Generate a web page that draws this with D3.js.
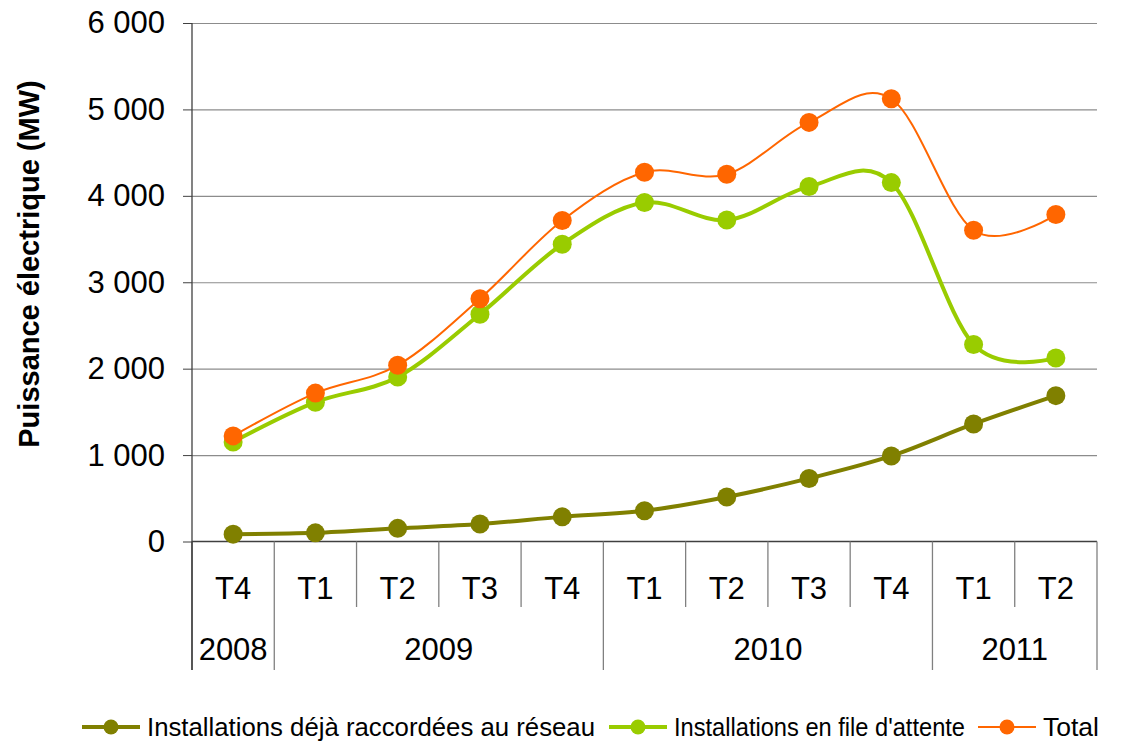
<!DOCTYPE html>
<head>
  <meta charset="utf-8">
  <script src="https://d3js.org/d3.v7.min.js"></script>
  <style>
    body { margin: 0; background: #fff; }
    text { font-family: "Liberation Sans", Arial, sans-serif; fill: #000; }
    .grid line { stroke: #8c8c8c; stroke-width: 1.2; }
    .grid path { display: none; }
    .y path { display: none; }
    .y line { stroke: #404040; }
    .y text { font-size: 31px; }
  </style>
</head>
<body>
<script>
  // quarters along the x axis, grouped by year
  var quarters = ["T4", "T1", "T2", "T3", "T4", "T1", "T2", "T3", "T4", "T1", "T2"];
  var years = ["2008", "2009", "2010", "2011"];
  var yearSpans = [1, 4, 4, 2];

  var yTicks = [0, 1000, 2000, 3000, 4000, 5000, 6000];

  // MW
  var raccordees = [85, 100, 152, 202, 285, 355, 515, 730, 990, 1360, 1688];
  var fileAttente = [1152, 1612, 1904, 2630, 3440, 3922, 3720, 4107, 4153, 2280, 2124];
  var total = [1222, 1717, 2040, 2810, 3714, 4272, 4249, 4850, 5123, 3602, 3783];

  var seriesNames = ["Installations déjà raccordées au réseau", "Installations en file d'attente", "Total"];
  var seriesColors = ["#808000", "#99cc00", "#ff6600"];
  var seriesWidths = [4, 4, 2];

  var W = 1132, H = 746;
  var plotLeft = 192, plotRight = 1097, plotTop = 23, plotBottom = 541.5;

  var svg = d3.select("body").append("svg")
      .attr("width", W)
      .attr("height", H);

  var x = d3.scaleBand()
      .domain(d3.range(quarters.length))
      .range([plotLeft, plotRight])
      .padding(0);

  var y = d3.scaleLinear()
      .domain([0, 6000])
      .range([plotBottom, plotTop]);

  var fr = d3.formatLocale({decimal: ",", thousands: " ", grouping: [3], currency: ["", " €"]});
  var fmt = fr.format(",d");

  // gridlines
  svg.append("g")
      .attr("class", "grid")
      .attr("transform", "translate(" + plotLeft + ",0)")
      .call(d3.axisLeft(y).tickValues(yTicks.slice(1)).tickSize(-(plotRight - plotLeft)).tickFormat(""));

  // y axis
  svg.append("g")
      .attr("class", "y axis")
      .attr("transform", "translate(" + plotLeft + ",0)")
      .call(d3.axisLeft(y).tickValues(yTicks).tickSize(9).tickPadding(18).tickFormat(fmt));

  svg.append("line")
      .attr("x1", plotLeft).attr("x2", plotLeft)
      .attr("y1", plotTop).attr("y2", 670)
      .attr("stroke", "#404040").attr("stroke-width", 1.3);

  svg.append("line")
      .attr("x1", plotLeft).attr("x2", plotRight)
      .attr("y1", plotBottom).attr("y2", plotBottom)
      .attr("stroke", "#404040").attr("stroke-width", 1.3);

  // category separators
  var edges = d3.range(quarters.length + 1).map(function(i) {
    return i < quarters.length ? x(i) : x(i - 1) + x.bandwidth();
  });
  var yearEdges = [0];
  yearSpans.forEach(function(s, i) { yearEdges.push(yearEdges[i] + s); });

  svg.selectAll(".sep")
      .data(edges)
    .enter().append("line")
      .attr("class", "sep")
      .attr("x1", function(d) { return d; })
      .attr("x2", function(d) { return d; })
      .attr("y1", plotBottom)
      .attr("y2", function(d, i) { return yearEdges.indexOf(i) >= 0 ? 670 : 607; })
      .attr("stroke", function(d, i) { return i === 0 ? "#404040" : "#808080"; })
      .attr("stroke-width", 1.3);

  svg.selectAll(".qlabel")
      .data(quarters)
    .enter().append("text")
      .attr("class", "qlabel")
      .attr("x", function(d, i) { return x(i) + x.bandwidth() / 2; })
      .attr("y", 599)
      .attr("text-anchor", "middle")
      .style("font-size", "31px")
      .text(function(d) { return d; });

  svg.selectAll(".ylabel")
      .data(years)
    .enter().append("text")
      .attr("class", "ylabel")
      .attr("x", function(d, i) { return (edges[yearEdges[i]] + edges[yearEdges[i + 1]]) / 2; })
      .attr("y", 660)
      .attr("text-anchor", "middle")
      .style("font-size", "31px")
      .text(function(d) { return d; });

  // y title
  svg.append("text")
      .attr("transform", "translate(39,264) rotate(-90)")
      .attr("text-anchor", "middle")
      .style("font-size", "29px")
      .style("font-weight", "bold")
      .text("Puissance électrique (MW)");

  // lines
  var line = d3.line()
      .x(function(d, i) { return x(i) + x.bandwidth() / 2; })
      .y(function(d) { return y(d); })
      .curve(d3.curveCardinal.tension(0));

  [raccordees, fileAttente, total].forEach(function(s, k) {
    var g = svg.append("g");
    g.append("path")
        .datum(s)
        .attr("fill", "none")
        .attr("stroke", seriesColors[k])
        .attr("stroke-width", seriesWidths[k])
        .attr("stroke-linejoin", "round")
        .attr("d", line);
    g.selectAll("circle")
        .data(s)
      .enter().append("circle")
        .attr("cx", function(d, i) { return x(i) + x.bandwidth() / 2; })
        .attr("cy", function(d) { return y(d); })
        .attr("r", 9.5)
        .attr("fill", seriesColors[k]);
  });

  // legend (item start positions and text widths follow the original layout)
  var legendX = [82, 609, 978];
  var legendTextW = [448, 291, 56];
  var ly = 727;
  seriesNames.forEach(function(name, k) {
    var lx = legendX[k];
    var lg = svg.append("g");
    lg.append("line")
        .attr("x1", lx).attr("x2", lx + 58)
        .attr("y1", ly).attr("y2", ly)
        .attr("stroke", seriesColors[k])
        .attr("stroke-width", seriesWidths[k]);
    lg.append("circle")
        .attr("cx", lx + 29).attr("cy", ly)
        .attr("r", 7.5)
        .attr("fill", seriesColors[k]);
    lg.append("text")
        .attr("x", lx + 65)
        .attr("y", ly + 9)
        .attr("textLength", legendTextW[k])
        .attr("lengthAdjust", "spacingAndGlyphs")
        .style("font-size", "25px")
        .text(name);
  });
</script>
</body>
